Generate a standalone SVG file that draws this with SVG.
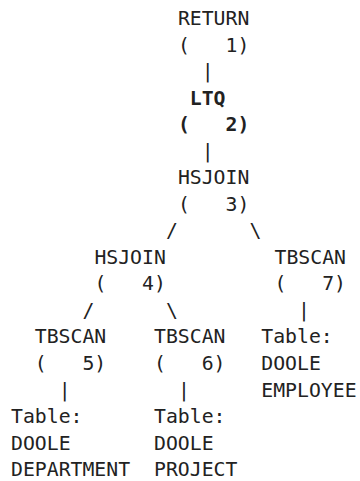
<svg xmlns="http://www.w3.org/2000/svg" width="360" height="481" viewBox="0 0 360 481">
<style>
text{font-family:"DejaVu Sans Mono","Liberation Mono",monospace;font-size:19.8px;fill:#222;white-space:pre}
.b{font-weight:bold}
</style>
<rect width="360" height="481" fill="#fff"/>
<g id="connectors">
<text x="201.7" y="78.1">|</text>
<text x="201.7" y="157.7">|</text>
<text x="166" y="237.3">/</text>
<text x="249.4" y="237.3">\</text>
<text x="82.5" y="316.9">/</text>
<text x="166" y="316.9">\</text>
<text x="298" y="316.9">|</text>
<text x="58.7" y="396.5">|</text>
<text x="177.9" y="396.5">|</text>
</g>
<g id="n1"><text x="177.9" y="25">RETURN</text><text x="177.9" y="51.5">(   1)</text></g>
<g id="n2"><text class="b" x="189.8" y="104.6">LTQ</text><text class="b" x="177.9" y="131.1">(   2)</text></g>
<g id="n3"><text x="177.9" y="184.2">HSJOIN</text><text x="177.9" y="210.7">(   3)</text></g>
<g id="n4"><text x="94.4" y="263.8">HSJOIN</text><text x="94.4" y="290.3">(   4)</text></g>
<g id="n7"><text x="274.5" y="263.8">TBSCAN</text><text x="274.5" y="290.3">(   7)</text></g>
<g id="n5"><text x="34.8" y="343.4">TBSCAN</text><text x="34.8" y="369.9">(   5)</text></g>
<g id="n6"><text x="154" y="343.4">TBSCAN</text><text x="154" y="369.9">(   6)</text></g>
<g id="t_employee"><text x="261.3" y="343.4">Table:</text><text x="261.3" y="369.9">DOOLE</text><text x="261.3" y="396.5">EMPLOYEE</text></g>
<g id="t_department"><text x="11" y="423">Table:</text><text x="11" y="449.5">DOOLE</text><text x="11" y="476">DEPARTMENT</text></g>
<g id="t_project"><text x="154" y="423">Table:</text><text x="154" y="449.5">DOOLE</text><text x="154" y="476">PROJECT</text></g>
</svg>
